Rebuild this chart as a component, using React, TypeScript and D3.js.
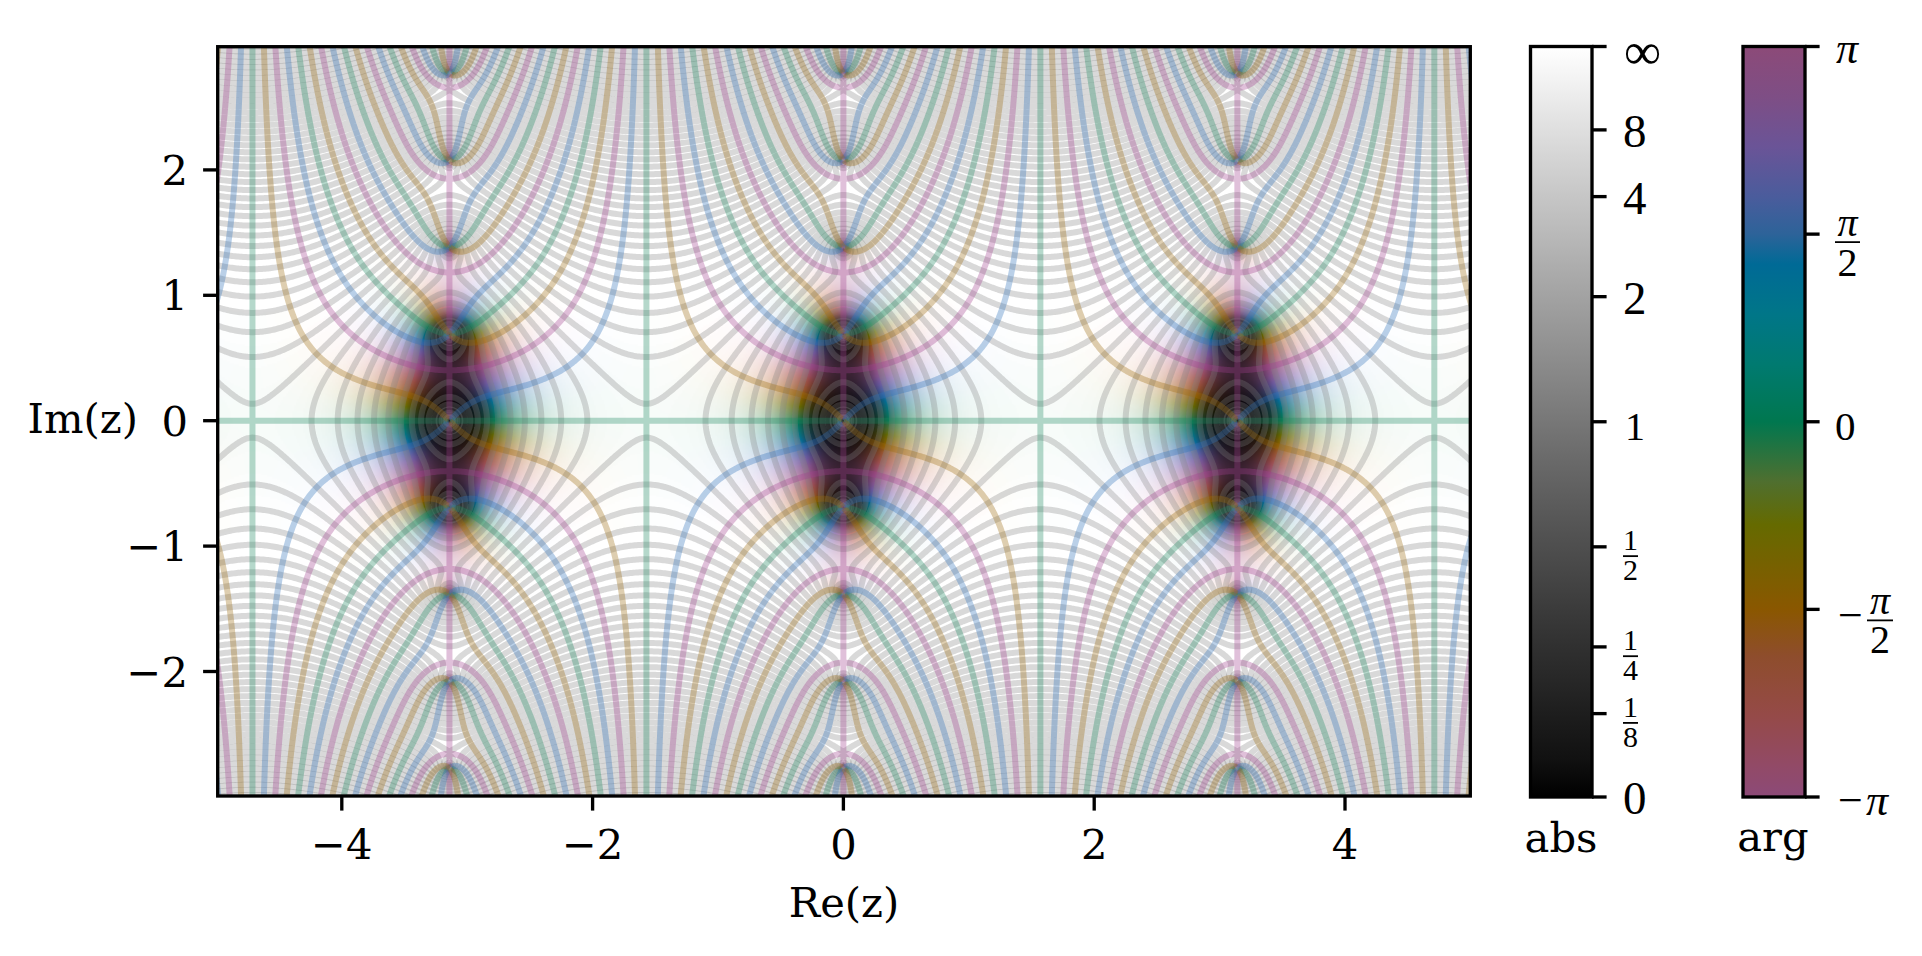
import React, { useMemo } from "react";
import * as d3 from "d3";

// Tick values and labels
const xTicks = [-4, -2, 0, 2, 4];
const yTicks = [-2, -1, 0, 1, 2];
const absBigTicks = [
  { v: 8, label: "8" },
  { v: 4, label: "4" },
  { v: 2, label: "2" },
];
const absFracTicks = [
  { v: 1 / 2, den: "2" },
  { v: 1 / 4, den: "4" },
  { v: 1 / 8, den: "8" },
];

// Colour wheel sampled by eye from the arg colorbar: [arg, colour]
const argStops: [number, string][] = [
  [-3.1416, "#8c4a78"],
  [-2.87, "#924a66"],
  [-2.46, "#954a48"],
  [-1.96, "#8e4d2c"],
  [-1.57, "#8a5700"],
  [-0.86, "#656a00"],
  [-0.5, "#4f6f2f"],
  [0, "#00774f"],
  [0.48, "#007a70"],
  [0.9, "#007688"],
  [1.32, "#006a96"],
  [1.57, "#2d6399"],
  [1.88, "#4a5c9c"],
  [2.3, "#6a5497"],
  [2.72, "#7e4e85"],
  [3.1416, "#8c4a78"],
];

// The field is a continuous surface, not a table that can be read point by point.
// It is modelled as scale * theta1(z, q)^2: the nome comes from the spacing of the
// zeros on the imaginary axis and the scale from the position of the abs contours.
const nome = [0.5];
const fieldScale = [13.4];
const absLevelExponents = d3.range(-9, 48);

const frame = { left: 217.7, right: 1470.3, top: 46.7, bottom: 796 };
const barTop = 46.5;
const barBottom = 797;
const xScale = d3.scaleLinear().domain([-5, 5]).range([216.4, 1470.4]);
const yScale = d3.scaleLinear().domain([-3, 3]).range([796.9, 44.5]);
const dz = 0.0125;
const pad = 0.1;

const serif = "'DejaVu Serif', serif";
const cmLike = "'Liberation Serif', serif";
const fontSize = 41.67;
const tickLen = 14.6;
const spine = 3.33;

const hueScale = d3
  .scaleLinear<string>()
  .domain(argStops.map((d) => d[0]))
  .range(argStops.map((d) => d[1]))
  .interpolate(d3.interpolateLab);

function buildField() {
  const nx = Math.round((10 + 2 * pad) / dz) + 1;
  const ny = Math.round((6 + 2 * pad) / dz) + 1;
  const q = nome[0];
  const coef = d3.range(16).map((n) => (n % 2 ? -1 : 1) * Math.pow(q, n * (n + 1)));
  const pre = 2 * Math.pow(q, 0.25);
  const logAbs = new Float64Array(nx * ny);
  const arg = new Float64Array(nx * ny);
  for (let j = 0; j < ny; j++) {
    const y = 3 + pad - j * dz;
    for (let i = 0; i < nx; i++) {
      const x = -5 - pad + i * dz;
      let re = 0;
      let im = 0;
      for (let n = 0; n < coef.length; n++) {
        const m = 2 * n + 1;
        re += coef[n] * Math.sin(m * x) * Math.cosh(m * y);
        im += coef[n] * Math.cos(m * x) * Math.sinh(m * y);
      }
      re *= pre;
      im *= pre;
      const k = i + j * nx;
      logAbs[k] = Math.log(fieldScale[0]) + Math.log(re * re + im * im + 1e-30);
      arg[k] = 2 * Math.atan2(im, re);
    }
  }
  return { nx, ny, logAbs, arg };
}

// lookup table: hue bin x lightness bin -> colour
function buildLut() {
  const nh = 256;
  const nl = 256;
  const lut = new Uint8ClampedArray(nh * nl * 3);
  for (let h = 0; h < nh; h++) {
    const c = d3.lab(hueScale(-Math.PI + (h / (nh - 1)) * 2 * Math.PI));
    for (let l = 0; l < nl; l++) {
      const L = (l / (nl - 1)) * 100;
      const s = Math.max(0, Math.min(1, L / c.l, Math.pow(Math.max(0, (100 - L) / (100 - c.l)), 0.85)));
      const rgb = d3.lab(L, c.a * s, c.b * s).rgb();
      const k = (h * nl + l) * 3;
      lut[k] = rgb.r;
      lut[k + 1] = rgb.g;
      lut[k + 2] = rgb.b;
    }
  }
  return { lut, nh, nl };
}

function fieldImage(f: ReturnType<typeof buildField>) {
  const { lut, nh, nl } = buildLut();
  const canvas = document.createElement("canvas");
  canvas.width = f.nx;
  canvas.height = f.ny;
  const ctx = canvas.getContext("2d")!;
  const img = ctx.createImageData(f.nx, f.ny);
  for (let k = 0; k < f.nx * f.ny; k++) {
    const a = Math.exp(f.logAbs[k]);
    let L = Number.isFinite(a) ? a / (a + 1) : 1;
    // the coloured field reads a bit darker below abs = 1 than the grey bar
    if (L < 0.5) L = 0.5 * Math.pow(2 * L, 1.4);
    const h = Math.round(((f.arg[k] + 2 * Math.PI + Math.PI) % (2 * Math.PI)) / (2 * Math.PI) * (nh - 1));
    const l = Math.round(L * (nl - 1));
    const t = (h * nl + l) * 3;
    img.data[k * 4] = lut[t];
    img.data[k * 4 + 1] = lut[t + 1];
    img.data[k * 4 + 2] = lut[t + 2];
    img.data[k * 4 + 3] = 255;
  }
  ctx.putImageData(img, 0, 0);
  return canvas.toDataURL("image/png");
}

// contour coords -> page coords (a grid value sits at index + 0.5)
const px = (cx: number) => xScale(-5 - pad + (cx - 0.5) * dz);
const py = (cy: number) => yScale(3 + pad - (cy - 0.5) * dz);
const ringLine = d3
  .line<number[]>()
  .x((d) => px(d[0]))
  .y((d) => py(d[1]));

function absPaths(f: ReturnType<typeof buildField>) {
  const contours = d3.contours().size([f.nx, f.ny]);
  const values = Array.from(f.logAbs);
  return absLevelExponents.map((e) => {
    const g = contours.contour(values, e * Math.LN2);
    return g.coordinates.flatMap((poly) => poly.map((ring) => ringLine(ring as number[][]))).join("");
  });
}

// One arg level pair: sin(arg - alpha) = 0 holds both alpha and alpha + pi,
// the sign of cos(arg - alpha) tells which one a vertex belongs to
function argPaths(f: ReturnType<typeof buildField>, alpha: number) {
  const values = Array.from(f.arg, (a) => Math.sin(a - alpha));
  const g = d3.contours().size([f.nx, f.ny]).contour(values, 0);
  const pos: string[] = [];
  const neg: string[] = [];
  g.coordinates.forEach((poly) =>
    poly.forEach((ring) => {
      let run: number[][] = [];
      let sign = 0;
      (ring as number[][]).forEach((pt) => {
        const i = Math.min(f.nx - 1, Math.max(0, Math.floor(pt[0])));
        const j = Math.min(f.ny - 1, Math.max(0, Math.floor(pt[1])));
        const s = Math.cos(f.arg[i + j * f.nx] - alpha) > 0 ? 1 : -1;
        if (s !== sign && run.length) {
          (sign > 0 ? pos : neg).push(ringLine(run)!);
          run = [];
        }
        sign = s;
        run.push(pt);
      });
      if (run.length > 1) (sign > 0 ? pos : neg).push(ringLine(run)!);
    }),
  );
  return { pos: pos.join(""), neg: neg.join("") };
}

const absY = d3.scaleLinear().domain([0, 1]).range([barBottom, barTop]);
const argY = d3.scaleLinear().domain([-Math.PI, Math.PI]).range([barBottom, barTop]);
const absBar = { x0: 1530.5, x1: 1592 };
const argBar = { x0: 1743, x1: 1805 };

const Frac = ({ x, y, num, den, size, w, gap, italic }: any) => (
  <g fontFamily={cmLike} fontSize={size} textAnchor="middle">
    <text x={x + w / 2} y={y - 6} fontStyle={italic ? "italic" : "normal"}>
      {num}
    </text>
    <line x1={x} x2={x + w} y1={y} y2={y} stroke="#000" strokeWidth={1.8} />
    <text x={x + w / 2} y={y + gap}>
      {den}
    </text>
  </g>
);

export default function App() {
  const { href, abs, arg0, arg90 } = useMemo(() => {
    const f = buildField();
    return {
      href: fieldImage(f),
      abs: absPaths(f),
      arg0: argPaths(f, 0),
      arg90: argPaths(f, Math.PI / 2),
    };
  }, []);

  const w = frame.right - frame.left;
  const h = frame.bottom - frame.top;

  return (
    <svg
      width={1922}
      height={956}
      style={{ position: "absolute", left: 0, top: 0, display: "block", background: "#fff" }}
    >
      <defs>
        <clipPath id="plot">
          <rect x={frame.left} y={frame.top} width={w} height={h} />
        </clipPath>
        <linearGradient id="absGrad" x1="0" y1="1" x2="0" y2="0">
          {d3.range(0, 1.001, 0.05).map((t) => (
            <stop key={t} offset={t} stopColor={d3.lab(t * 100, 0, 0).formatHex()} />
          ))}
        </linearGradient>
        <linearGradient id="argGrad" x1="0" y1="1" x2="0" y2="0">
          {argStops.map((d) => (
            <stop key={d[0]} offset={(d[0] + Math.PI) / (2 * Math.PI)} stopColor={d[1]} />
          ))}
        </linearGradient>
      </defs>

      <g clipPath="url(#plot)">
        <image
          href={href}
          x={xScale(-5 - pad)}
          y={yScale(3 + pad)}
          width={xScale(5 + pad) - xScale(-5 - pad)}
          height={yScale(-3 - pad) - yScale(3 + pad)}
          preserveAspectRatio="none"
        />
        <g fill="none" strokeWidth={6}>
          {abs.map((d, i) => (
            <path key={i} d={d} stroke="#808080" strokeOpacity={0.3} />
          ))}
          <g strokeOpacity={0.33}>
            <path d={arg0.pos} stroke="#1f8a60" />
            <path d={arg0.neg} stroke="#a0408f" />
            <path d={arg90.pos} stroke="#2f70b8" />
            <path d={arg90.neg} stroke="#9a6a10" />
          </g>
        </g>
      </g>
      <rect x={frame.left} y={frame.top} width={w} height={h} fill="none" stroke="#000" strokeWidth={spine} />

      {/* x axis */}
      <g fontFamily={serif} fontSize={fontSize} textAnchor="middle">
        {xTicks.map((t) => (
          <g key={t}>
            <line x1={xScale(t)} x2={xScale(t)} y1={frame.bottom} y2={frame.bottom + tickLen} stroke="#000" strokeWidth={spine} />
            <text x={xScale(t)} y={859}>
              {t < 0 ? `\u2212${-t}` : t}
            </text>
          </g>
        ))}
        <text x={844} y={917}>
          Re(z)
        </text>
      </g>

      {/* y axis */}
      <g fontFamily={serif} fontSize={fontSize} textAnchor="end">
        {yTicks.map((t) => (
          <g key={t}>
            <line x1={frame.left - tickLen} x2={frame.left} y1={yScale(t)} y2={yScale(t)} stroke="#000" strokeWidth={spine} />
            <text x={188} y={yScale(t) + 15}>
              {t < 0 ? `\u2212${-t}` : t}
            </text>
          </g>
        ))}
        <text x={138} y={433}>
          Im(z)
        </text>
      </g>

      {/* abs colorbar */}
      <rect x={absBar.x0} y={barTop} width={absBar.x1 - absBar.x0} height={barBottom - barTop} fill="url(#absGrad)" stroke="#000" strokeWidth={spine} />
      {[0, 1, ...absBigTicks.map((d) => d.v / (d.v + 1)), 0.5, ...absFracTicks.map((d) => d.v / (d.v + 1))].map((t, i) => (
        <line key={i} x1={absBar.x1} x2={absBar.x1 + tickLen} y1={absY(t)} y2={absY(t)} stroke="#000" strokeWidth={spine} />
      ))}
      <g fontFamily={cmLike}>
        <text x={1624} y={69} fontSize={52}>
          ∞
        </text>
        {absBigTicks.map((d) => (
          <text key={d.label} x={1623} y={absY(d.v / (d.v + 1)) + 17} fontSize={47}>
            {d.label}
          </text>
        ))}
        <text x={1623} y={barBottom + 17} fontSize={47}>
          0
        </text>
        <text x={1625} y={absY(0.5) + 18} fontSize={40}>
          1
        </text>
      </g>
      {absFracTicks.map((d) => (
        <Frac key={d.den} x={1623} y={absY(d.v / (d.v + 1)) + 9.3} num="1" den={d.den} size={30} w={15} gap={24} />
      ))}
      <text x={1561} y={852} fontFamily={serif} fontSize={fontSize} textAnchor="middle">
        abs
      </text>

      {/* arg colorbar */}
      <rect x={argBar.x0} y={barTop} width={argBar.x1 - argBar.x0} height={barBottom - barTop} fill="url(#argGrad)" stroke="#000" strokeWidth={spine} />
      {[Math.PI, Math.PI / 2, 0, -Math.PI / 2, -Math.PI].map((t) => (
        <line key={t} x1={argBar.x1} x2={argBar.x1 + tickLen} y1={argY(t)} y2={argY(t)} stroke="#000" strokeWidth={spine} />
      ))}
      <g fontFamily={cmLike} fontSize={44}>
        <text x={1836} y={63} fontStyle="italic">
          π
        </text>
        <text x={1835} y={argY(0) + 18} fontSize={41}>
          0
        </text>
        <text x={1838} y={815}>
          {"\u2212"}
        </text>
        <text x={1866} y={815} fontStyle="italic">
          π
        </text>
        <text x={1838} y={argY(-Math.PI / 2) + 21}>
          {"\u2212"}
        </text>
      </g>
      <Frac x={1835} y={argY(Math.PI / 2) + 8} num="π" den="2" size={40} w={25} gap={34} italic />
      <Frac x={1867} y={argY(-Math.PI / 2) + 11} num="π" den="2" size={40} w={26} gap={33} italic />
      <text x={1773} y={851} fontFamily={serif} fontSize={fontSize} textAnchor="middle">
        arg
      </text>
    </svg>
  );
}
